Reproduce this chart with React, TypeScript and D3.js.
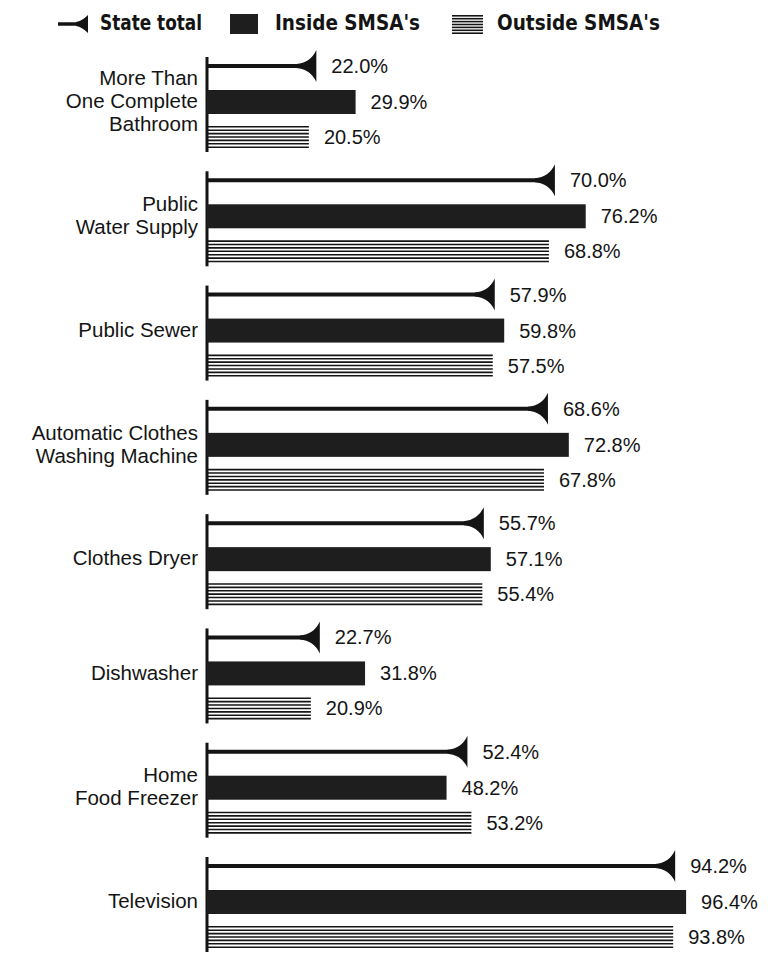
import React from "react";
import * as d3 from "d3";

const categories: string[][] = [
  ["More Than", "One Complete", "Bathroom"],
  ["Public", "Water Supply"],
  ["Public Sewer"],
  ["Automatic Clothes", "Washing Machine"],
  ["Clothes Dryer"],
  ["Dishwasher"],
  ["Home", "Food Freezer"],
  ["Television"],
];
const stateTotal = [22.0, 70.0, 57.9, 68.6, 55.7, 22.7, 52.4, 94.2];
const insideSMSA = [29.9, 76.2, 59.8, 72.8, 57.1, 31.8, 48.2, 96.4];
const outsideSMSA = [20.5, 68.8, 57.5, 67.8, 55.4, 20.9, 53.2, 93.8];
const legendLabels = ["State total", "Inside SMSA's", "Outside SMSA's"];

const W = 777;
const H = 959;
const INK = "#141414";
const BAR = "#1e1e1e";
const FONT = "'Liberation Sans', Arial, Helvetica, sans-serif";
const LEGEND_FONT = "'Liberation Sans Narrow', 'DejaVu Sans Condensed', 'Liberation Sans', sans-serif";

const x = d3.scaleLinear().domain([0, 100]).range([207, 704]);
const yTop = d3.scaleLinear().domain([0, categories.length - 1]).range([57, 857]);

function arrowHead(xe: number, cy: number, w = 20, h = 16) {
  const p = d3.path();
  p.moveTo(xe - w, cy - 2);
  p.quadraticCurveTo(xe - 6, cy - 3, xe, cy - h);
  p.lineTo(xe, cy + h);
  p.quadraticCurveTo(xe - 6, cy + 3, xe - w, cy + 2);
  p.closePath();
  return p.toString();
}

function Stripes({ x0, x1, y0, h }: { x0: number; x1: number; y0: number; h: number }) {
  const n = 7;
  const lines = d3.range(n).map((i) => y0 + (i * (h - 1.6)) / (n - 1) + 0.8);
  return (
    <g>
      {lines.map((yy, i) => (
        <line key={i} x1={x0} x2={x1} y1={yy} y2={yy} stroke={INK} strokeWidth={1.6} />
      ))}
    </g>
  );
}

export default function App() {
  const x0 = x(0);
  const LY = 24;
  return (
    <svg
      width={W}
      height={H}
      viewBox={`0 0 ${W} ${H}`}
      style={{ display: "block", position: "absolute", left: 0, top: 0, background: "#fff" }}
    >
      <rect width={W} height={H} fill="#fff" />
      {/* Legend */}
      <g fontFamily={LEGEND_FONT} fontWeight="bold" fontSize={21} fill={INK}>
        <line x1={58} x2={80} y1={LY} y2={LY} stroke={INK} strokeWidth={3.5} />
        <path d={arrowHead(88, LY, 12, 9)} fill={INK} />
        <text x={100} y={LY - 1} dy="0.35em" textLength={102} lengthAdjust="spacingAndGlyphs">{legendLabels[0]}</text>
        <rect x={230} y={14} width={28} height={20} fill={BAR} />
        <text x={275} y={LY - 1} dy="0.35em" textLength={145} lengthAdjust="spacingAndGlyphs">{legendLabels[1]}</text>
        <Stripes x0={452} x1={483} y0={15} h={19} />
        <text x={497} y={LY - 1} dy="0.35em" textLength={163} lengthAdjust="spacingAndGlyphs">{legendLabels[2]}</text>
      </g>
      {categories.map((lines, i) => {
        const T = yTop(i);
        const sy = T + 9;
        const iy0 = T + 33;
        const iy1 = T + 57;
        const oy0 = T + 69;
        const oy1 = T + 91;
        const lh = 23;
        const cy = T + 44;
        const startY = cy - ((lines.length - 1) * lh) / 2;
        return (
          <g key={i}>
            <line x1={x0} x2={x0} y1={T} y2={T + 95} stroke={INK} strokeWidth={3} />
            <line x1={x0} x2={x(stateTotal[i]) - 12} y1={sy} y2={sy} stroke={INK} strokeWidth={4} />
            <path d={arrowHead(x(stateTotal[i]), sy)} fill={INK} />
            <rect x={x0} y={iy0} width={x(insideSMSA[i]) - x0} height={iy1 - iy0} fill={BAR} />
            <Stripes x0={x0} x1={x(outsideSMSA[i])} y0={oy0} h={oy1 - oy0} />
            <g fontFamily={FONT} fontSize={20.5} fill={INK} textAnchor="end">
              {lines.map((s, k) => (
                <text key={k} x={198} y={startY + k * lh} dy="0.35em">{s}</text>
              ))}
            </g>
            <g fontFamily={FONT} fontSize={20} fill={INK}>
              <text x={x(stateTotal[i]) + 15} y={sy} dy="0.35em">{stateTotal[i].toFixed(1)}%</text>
              <text x={x(insideSMSA[i]) + 15} y={(iy0 + iy1) / 2} dy="0.35em">{insideSMSA[i].toFixed(1)}%</text>
              <text x={x(outsideSMSA[i]) + 15} y={(oy0 + oy1) / 2} dy="0.35em">{outsideSMSA[i].toFixed(1)}%</text>
            </g>
          </g>
        );
      })}
    </svg>
  );
}
